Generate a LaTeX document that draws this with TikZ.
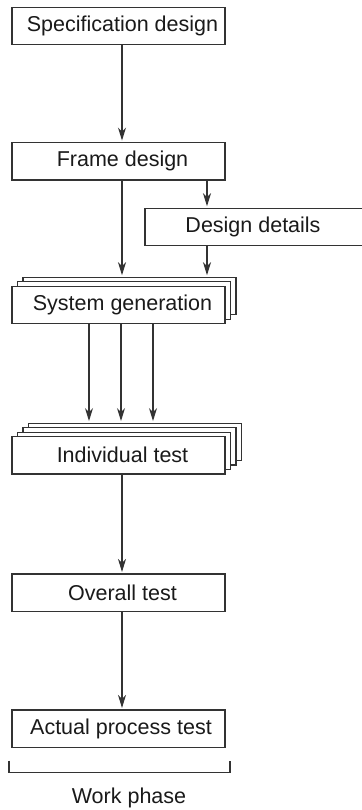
\documentclass[tikz,border=0pt]{standalone}
\usepackage{fontspec}
\setmainfont{Liberation Sans}
\usetikzlibrary{arrows.meta}
\definecolor{ln}{HTML}{333333}
\definecolor{tx}{HTML}{1A1A1A}
\begin{document}
\begin{tikzpicture}[x=1pt,y=-1pt,
  box/.style={draw=ln, line width=1.1pt, fill=white, inner sep=0pt,
    minimum width=213pt, minimum height=37.4pt, text=tx,
    font=\fontsize{21.5}{25}\selectfont},
  ghost/.style={draw=ln, line width=1.1pt, fill=white, inner sep=0pt,
    minimum width=213pt, minimum height=37.4pt},
  arr/.style={draw=ln, line width=1.2pt, -{Stealth[length=13pt,width=8pt,inset=4pt]}, shorten >=1.5pt}
]
\useasboundingbox (0,0) rectangle (361,810);

% Specification design
\node[box] (spec) at (118.5,26) {\hspace*{8pt}Specification design};
% Frame design
\node[box] (frame) at (118.5,161.3) {\hspace*{8pt}Frame design};
% Design details
\node[box, minimum width=226pt] (det) at (258,227) {Design details\hspace*{10pt}};

% System generation stack
\node[ghost] (sg3) at (129.5,296) {};
\node[ghost] (sg2) at (124,300.5) {};
\node[box] (sg) at (118.5,305) {\hspace*{8pt}System generation};

% Individual test stack
\node[ghost] (it4) at (135,441.8) {};
\node[ghost] (it3) at (129.5,446.3) {};
\node[ghost] (it2) at (124,450.8) {};
\node[box] (it) at (118.5,455.3) {\hspace*{8pt}Individual test};

% Overall test
\node[box] (ov) at (118.5,592.7) {\hspace*{8pt}Overall test};
% Actual process test
\node[box] (act) at (118.5,728.7) {\hspace*{5pt}Actual process test};

% Arrows
\draw[arr] ([xshift=3.5pt]spec.south) -- ([xshift=3.5pt]frame.north);
\coordinate (a1) at ([xshift=-7.5pt]sg3.north);
\draw[arr] (frame.south -| a1) -- (a1);
\coordinate (dtop) at ([xshift=88.5pt]frame.south);
\draw[arr] (dtop) -- (dtop |- det.north);
\coordinate (a2) at ([xshift=77.5pt]sg3.north);
\draw[arr] (det.south -| a2) -- (a2);

\foreach \dx [count=\i] in {-29.5,2.5,34.5} {
  \coordinate (b\i) at ([xshift=\dx pt]sg.south);
  \draw[arr] (b\i) -- (b\i |- it4.north);
}
\draw[arr] ([xshift=3.5pt]it.south) -- ([xshift=3.5pt]ov.north);
\draw[arr] ([xshift=3.5pt]ov.south) -- ([xshift=3.5pt]act.north);

% Bracket
\coordinate (bl) at (9,760.7);
\coordinate (br) at (230,760.7);
\draw[ln, line width=1.1pt] (bl) -- ++(0,12) -| (br);
\node[text=tx, font=\fontsize{21.5}{25}\selectfont] (wp) at (129,797.7) {Work phase};
\end{tikzpicture}
\end{document}
